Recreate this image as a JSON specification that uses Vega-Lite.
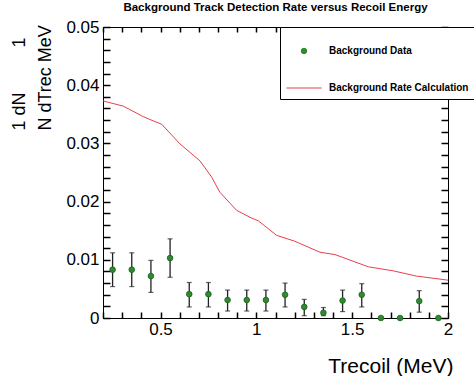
{
  "$schema": "https://vega.github.io/schema/vega-lite/v6.json",
  "autosize": {"type": "none"},
  "padding": {"left": 103, "top": 27, "right": 26, "bottom": 58},
  "width": 345,
  "height": 291,
  "background": "white",
  "config": {
    "font": "Liberation Sans",
    "view": {"stroke": "black", "strokeWidth": 1},
    "axis": {"grid": false, "ticks": true, "zindex": 1, "domainColor": "#000000", "tickColor": "#000000", "tickWidth": 1.5, "tickOpacity": 1, "labelColor": "black", "titleColor": "black", "labelFont": "Liberation Sans", "titleFont": "Liberation Sans"}
  },
  "title": {"text": "Background Track Detection Rate versus Recoil Energy", "fontSize": 11.5, "fontWeight": "bold", "font": "Liberation Sans", "frame": "group", "anchor": "middle", "offset": 5, "color": "black"},
  "datasets": {
    "calc": [
      {"E": 0.2, "rate": 0.0373},
      {"E": 0.306, "rate": 0.0364},
      {"E": 0.41, "rate": 0.0346},
      {"E": 0.445, "rate": 0.0341},
      {"E": 0.506, "rate": 0.0333},
      {"E": 0.602, "rate": 0.0299},
      {"E": 0.706, "rate": 0.027},
      {"E": 0.767, "rate": 0.0242},
      {"E": 0.81, "rate": 0.0216},
      {"E": 0.897, "rate": 0.0185},
      {"E": 0.967, "rate": 0.0173},
      {"E": 1.01, "rate": 0.0167},
      {"E": 1.106, "rate": 0.0142},
      {"E": 1.2, "rate": 0.0132},
      {"E": 1.332, "rate": 0.0113},
      {"E": 1.41, "rate": 0.0109},
      {"E": 1.584, "rate": 0.0088},
      {"E": 1.714, "rate": 0.0081},
      {"E": 1.836, "rate": 0.0072},
      {"E": 2.0, "rate": 0.0065}
    ],
    "bg": [
      {"E": 0.25, "rate": 0.0083, "lo": 0.0054, "hi": 0.0112},
      {"E": 0.35, "rate": 0.0083, "lo": 0.0054, "hi": 0.0112},
      {"E": 0.45, "rate": 0.0072, "lo": 0.0044, "hi": 0.0099},
      {"E": 0.55, "rate": 0.0103, "lo": 0.007, "hi": 0.0136},
      {"E": 0.65, "rate": 0.0041, "lo": 0.0019, "hi": 0.0061},
      {"E": 0.75, "rate": 0.0041, "lo": 0.0019, "hi": 0.0061},
      {"E": 0.85, "rate": 0.0031, "lo": 0.0012, "hi": 0.0048},
      {"E": 0.95, "rate": 0.0031, "lo": 0.0012, "hi": 0.0048},
      {"E": 1.05, "rate": 0.0031, "lo": 0.0012, "hi": 0.0048},
      {"E": 1.15, "rate": 0.004, "lo": 0.0019, "hi": 0.006},
      {"E": 1.25, "rate": 0.0019, "lo": 0.0004, "hi": 0.0032},
      {"E": 1.35, "rate": 0.0009, "lo": 0.0004, "hi": 0.0018},
      {"E": 1.45, "rate": 0.003, "lo": 0.0011, "hi": 0.0048},
      {"E": 1.55, "rate": 0.004, "lo": 0.0019, "hi": 0.0059},
      {"E": 1.65, "rate": 0, "lo": null, "hi": null},
      {"E": 1.75, "rate": 0, "lo": null, "hi": null},
      {"E": 1.85, "rate": 0.0029, "lo": 0.001, "hi": 0.0047},
      {"E": 1.95, "rate": 0, "lo": null, "hi": null}
    ]
  },
  "layer": [
    {
      "data": {"name": "calc"},
      "mark": {"type": "line", "strokeWidth": 1},
      "encoding": {
        "x": {"field": "E", "type": "quantitative", "scale": {"domain": [0.2, 2], "nice": false, "zero": false},
          "axis": {"orient": "bottom",
            "values": [0.2,0.3,0.4,0.5,0.6,0.7,0.8,0.9,1,1.1,1.2,1.3,1.4,1.5,1.6,1.7,1.8,1.9,2],
            "labelExpr": "datum.value == 0.5 ? '0.5' : datum.value == 1 ? '1' : datum.value == 1.5 ? '1.5' : datum.value == 2 ? '2' : ''",
            "tickSize": -6,
            "encode": {"ticks": {"update": {"y2": {"signal": "indexof([0.5,1,1.5,2], datum.value) >= 0 ? -10 : -6"}}}},
            "labelPadding": 9, "labelFontSize": 17, "labelFlush": false, "labelOverlap": false,
            "title": "Trecoil (MeV)", "titleFontSize": 21, "titleFontWeight": "normal",
            "titleX": 350, "titleY": 54, "titleAlign": "right", "titleBaseline": "alphabetic", "titleAnchor": null}},
        "y": {"field": "rate", "type": "quantitative", "scale": {"domain": [0, 0.05], "nice": false, "zero": true},
          "axis": {"orient": "left",
            "values": [0,0.002,0.004,0.006,0.008,0.01,0.012,0.014,0.016,0.018,0.02,0.022,0.024,0.026,0.028,0.03,0.032,0.034,0.036,0.038,0.04,0.042,0.044,0.046,0.048,0.05],
            "labelExpr": "datum.value == 0 ? '0' : datum.value == 0.01 ? '0.01' : datum.value == 0.02 ? '0.02' : datum.value == 0.03 ? '0.03' : datum.value == 0.04 ? '0.04' : datum.value == 0.05 ? '0.05' : ''",
            "tickSize": -7,
            "encode": {"ticks": {"update": {"x2": {"signal": "indexof([0,0.01,0.02,0.03,0.04,0.05], datum.value) >= 0 ? 14 : 7"}}}},
            "labelPadding": 11, "labelFontSize": 17, "labelFlush": false, "labelOverlap": false,
            "title": ["1\u00a0dN\u00a0\u00a0\u00a0\u00a0\u00a0\u00a0\u00a0\u00a0\u00a01", "N\u00a0dTrec\u00a0MeV"],
            "titleFontSize": 18, "titleFontWeight": "normal", "titleAngle": 270,
            "titleAlign": "left", "titleBaseline": "top", "titleX": -93, "titleY": 103, "titleLineHeight": 26, "titleAnchor": null}},
        "color": {"datum": "Background Rate Calculation", "type": "nominal",
          "scale": {"domain": ["Background Data", "Background Rate Calculation"], "range": ["#2e8b2e", "#e8404a"]},
          "legend": {"orient": "none", "legendX": 177, "legendY": 0, "title": null, "zindex": 2,
            "fillColor": "white", "strokeColor": "black", "padding": 6, "rowPadding": 14,
            "labelFont": "Liberation Sans", "labelFontSize": 10, "labelFontWeight": "bold", "labelColor": "black",
            "labelOffset": 7, "symbolSize": 1225, "symbolStrokeWidth": 1,
            "encode": {"symbols": {"update": {
              "shape": {"signal": "datum.value === 'Background Data' ? 'circle' : 'stroke'"},
              "size": {"signal": "datum.value === 'Background Data' ? 30 : 1225"},
              "fill": {"signal": "datum.value === 'Background Data' ? '#2e8b2e' : 'transparent'"},
              "stroke": {"signal": "datum.value === 'Background Data' ? '#1e5e1e' : '#e8404a'"},
              "strokeWidth": {"value": 1},
              "opacity": {"value": 1}
            }}}}}
      }
    },
    {
      "data": {"name": "bg"},
      "transform": [{"filter": "datum.hi != null"}],
      "mark": {"type": "rule", "color": "#222222", "strokeWidth": 1.3},
      "encoding": {
        "x": {"field": "E", "type": "quantitative", "scale": {"domain": [0.2, 2], "nice": false, "zero": false},
          "axis": {"orient": "top",
            "values": [0.2,0.3,0.4,0.5,0.6,0.7,0.8,0.9,1,1.1,1.2,1.3,1.4,1.5,1.6,1.7,1.8,1.9,2],
            "labels": false, "title": null, "tickSize": -5,
            "encode": {"ticks": {"update": {"y2": {"signal": "indexof([0.5,1,1.5,2], datum.value) >= 0 ? 9 : 5"}}}}}},
        "y": {"field": "lo", "type": "quantitative", "scale": {"domain": [0, 0.05], "nice": false, "zero": true},
          "axis": {"orient": "right",
            "values": [0,0.002,0.004,0.006,0.008,0.01,0.012,0.014,0.016,0.018,0.02,0.022,0.024,0.026,0.028,0.03,0.032,0.034,0.036,0.038,0.04,0.042,0.044,0.046,0.048,0.05],
            "labels": false, "title": null, "tickSize": -7,
            "encode": {"ticks": {"update": {"x2": {"signal": "indexof([0,0.01,0.02,0.03,0.04,0.05], datum.value) >= 0 ? -13 : -7"}}}}}},
        "y2": {"field": "hi"}
      }
    },
    {
      "data": {"name": "bg"},
      "transform": [{"filter": "datum.hi != null"}, {"fold": ["lo", "hi"], "as": ["end", "val"]}],
      "mark": {"type": "tick", "orient": "horizontal", "color": "#222222", "size": 5, "thickness": 1.2},
      "encoding": {
        "x": {"field": "E", "type": "quantitative", "axis": null},
        "y": {"field": "val", "type": "quantitative", "axis": null}
      }
    },
    {
      "data": {"name": "bg"},
      "mark": {"type": "point", "filled": true, "size": 32, "opacity": 1, "stroke": "#1e5e1e", "strokeWidth": 0.8},
      "encoding": {
        "x": {"field": "E", "type": "quantitative", "axis": null},
        "y": {"field": "rate", "type": "quantitative", "axis": null},
        "color": {"datum": "Background Data", "type": "nominal", "legend": null}
      }
    }
  ],
  "resolve": {"axis": {"x": "independent", "y": "independent"}}
}
